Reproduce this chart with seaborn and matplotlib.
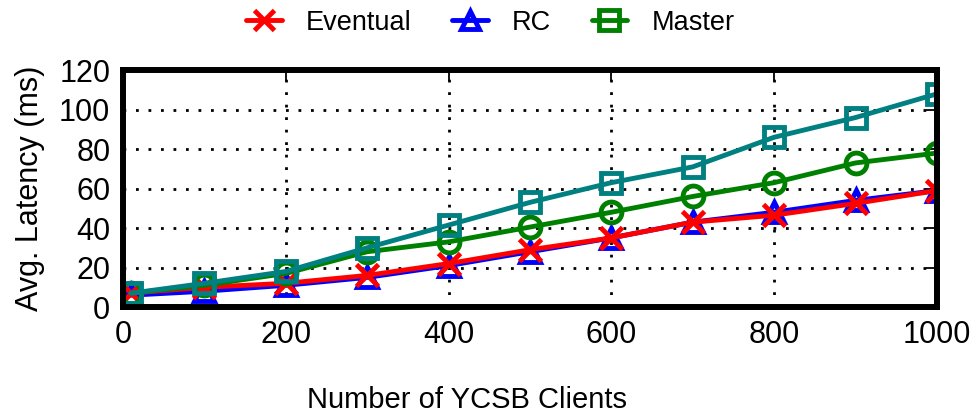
import matplotlib
matplotlib.use("Agg")
import matplotlib.pyplot as plt
from matplotlib.lines import Line2D
import seaborn as sns
import pandas as pd

# дані
clients = [10, 100, 200, 300, 400, 500, 600, 700, 800, 900, 1000]
eventual = [7, 10, 12, 16, 22, 29, 35, 43, 46.5, 52.5, 59]
rc = [6, 8, 11, 15, 21, 28, 35, 43, 48, 54, 59]
master_circle = [7, 11, 17, 28, 33, 40.5, 48, 56, 63, 73, 78]
master_square = [7, 12, 18, 30, 41.5, 53, 63, 71, 86, 96, 108]

x_ticks = [0, 200, 400, 600, 800, 1000]
y_ticks = [0, 20, 40, 60, 80, 100, 120]

sns.set_style("white")
plt.rcParams['font.family'] = ['Liberation Sans', 'DejaVu Sans']
plt.rcParams['text.color'] = 'black'
plt.rcParams['axes.labelcolor'] = 'black'

fig = plt.figure(figsize=(9.75, 4.2), dpi=100)
ax = fig.add_axes([0.126, 0.269, 0.835, 0.564])

series = [
    ("RC", rc, "#0000ff", "^", 15),
    ("Eventual", eventual, "#ff0000", "x", 16),
    ("Master", master_circle, "#008000", "o", 15),
    ("Master sq", master_square, "#008080", "s", 15),
]
for name, vals, color, marker, ms in series:
    df = pd.DataFrame({"clients": clients, "latency": vals})
    sns.lineplot(data=df, x="clients", y="latency", ax=ax, color=color,
                 marker=marker, markersize=ms, markerfacecolor="none",
                 markeredgecolor=color, markeredgewidth=3.5, linewidth=3.5,
                 zorder=3)

ax.set_xlim(0, 1000)
ax.set_ylim(0, 120)
ax.set_xticks(x_ticks)
ax.set_yticks(y_ticks)
ax.grid(True, color="black", linestyle=(0, (1, 3.5)), linewidth=2.0,
        dash_capstyle="butt")
for s in ax.spines.values():
    s.set_linewidth(4.3)
    s.set_color("black")
    s.set_zorder(5)
ax.tick_params(direction="in", length=8, width=1.3, top=True, right=True,
               labelsize=22, pad=9, colors="black")
ax.set_xlabel("Number of YCSB Clients", fontsize=21)
ax.xaxis.set_label_coords(0.423, -0.335)
ax.set_ylabel("Avg. Latency (ms)", fontsize=22, labelpad=10)

handles = [
    Line2D([], [], color="#ff0000", marker="x", markersize=15, markeredgewidth=3.5, linewidth=3.5),
    Line2D([], [], color="#0000ff", marker="^", markersize=13, markerfacecolor="none", markeredgewidth=3.5, linewidth=3.5),
    Line2D([], [], color="#008000", marker="s", markersize=14, markerfacecolor="none", markeredgewidth=3.5, linewidth=3.5),
]
fig.legend(handles, ["Eventual", "RC", "Master"], loc="upper center",
           bbox_to_anchor=(0.503, 1.035), ncol=3, frameon=False, fontsize=19.5,
           handlelength=1.3, columnspacing=1.5, handletextpad=0.9)

fig.savefig("out.png", dpi=100)
plt.close(fig)
